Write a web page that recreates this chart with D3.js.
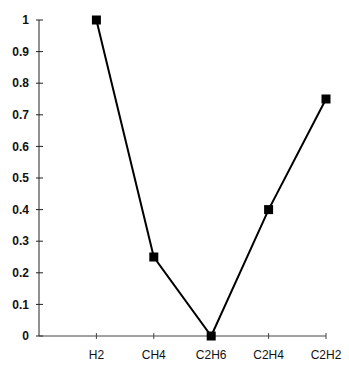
<!DOCTYPE html>
<html><head><meta charset="utf-8">
<script src="https://cdn.jsdelivr.net/npm/d3@7"></script>
<style>body{margin:0;background:#fff}svg{display:block}text{font-family:"Liberation Sans",Arial,sans-serif;font-weight:bold;fill:#111}</style>
</head><body>
<script>
const categories = ["H2","CH4","C2H6","C2H4","C2H2"];
const values = [1.0, 0.25, 0.0, 0.4, 0.75];
const yTicks = [0,0.1,0.2,0.3,0.4,0.5,0.6,0.7,0.8,0.9,1];

const W=349,H=369;
const svg=d3.select("body").append("svg").attr("width",W).attr("height",H);
const x0=39, x1=326, y0=336, y1=20;
const x=d3.scaleLinear().domain([0,categories.length]).range([x0,x1]);
const y=d3.scaleLinear().domain([0,1]).range([y0,y1]);

// y axis
const gy=svg.append("g");
gy.append("line").attr("x1",x0).attr("x2",x0).attr("y1",y(0)).attr("y2",y(1)).attr("stroke","#222").attr("stroke-width",1);
yTicks.forEach(t=>{
  gy.append("line").attr("x1",x0-3).attr("x2",x0+4).attr("y1",y(t)).attr("y2",y(t)).attr("stroke","#222");
  gy.append("text").attr("x",x0-10).attr("y",y(t)).attr("dy","0.35em").attr("text-anchor","end").attr("font-size",12).text(d3.format("")(t));
});
// x axis
const gx=svg.append("g");
gx.append("line").attr("x1",x0).attr("x2",x1).attr("y1",y0).attr("y2",y0).attr("stroke","#444").attr("stroke-width",1);
categories.forEach((c,i)=>{
  gx.append("line").attr("x1",x(i+1)).attr("x2",x(i+1)).attr("y1",y0-3).attr("y2",y0+3).attr("stroke","#444");
  gx.append("text").attr("x",x(i+1)).attr("y",y0+23).attr("text-anchor","middle").attr("font-size",12).style("font-weight","normal").text(c);
});
// line
const line=d3.line().x((d,i)=>x(i+1)).y(d=>y(d));
svg.append("path").datum(values).attr("d",line).attr("fill","none").attr("stroke","#000").attr("stroke-width",2);
svg.selectAll("rect.m").data(values).join("rect").attr("class","m")
  .attr("x",(d,i)=>x(i+1)-4.5).attr("y",d=>y(d)-4.5).attr("width",9).attr("height",9).attr("fill","#000");
</script>
</body></html>
